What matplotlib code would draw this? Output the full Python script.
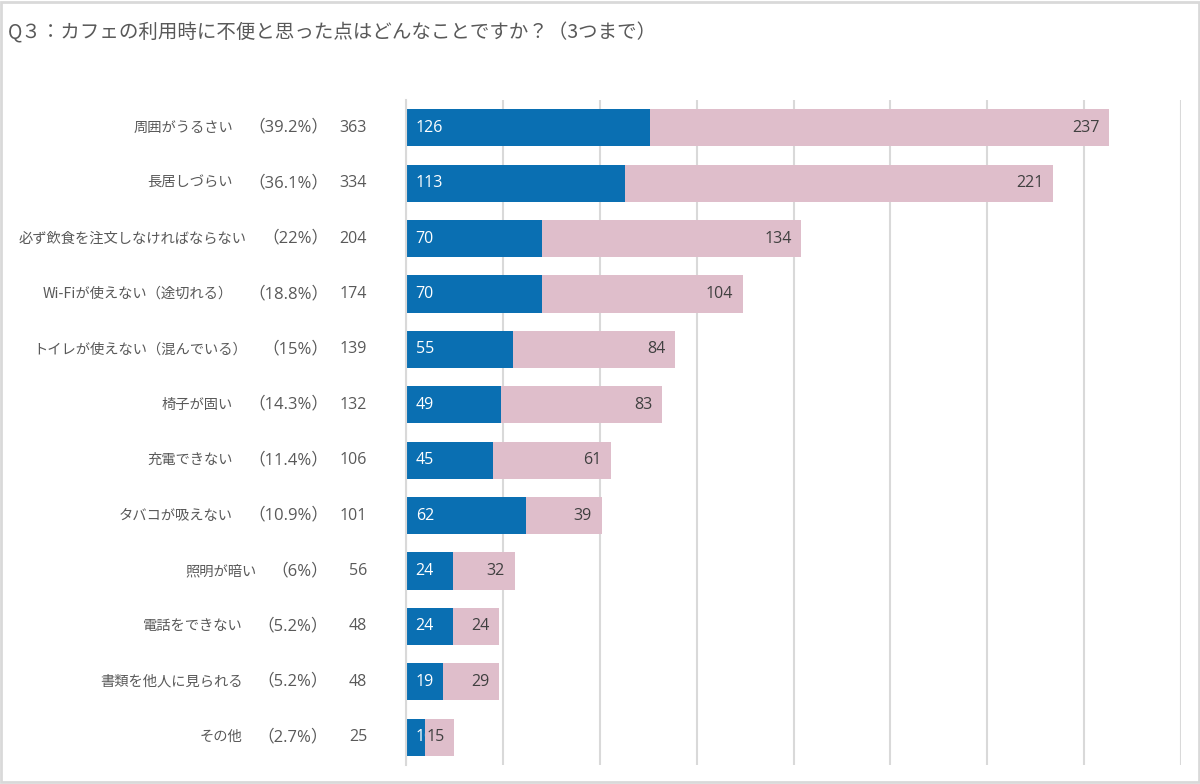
import matplotlib.pyplot as plt
from matplotlib.patches import Rectangle
import matplotlib.transforms as mtransforms

plt.rcParams['font.family'] = ['Noto Sans CJK JP', 'DejaVu Sans']
num_font = ['Open Sans', 'Noto Sans CJK JP']

cats = ['周囲がうるさい', '長居しづらい', '必ず飲食を注文しなければならない',
        'Wi-Fiが使えない（途切れる）', 'トイレが使えない（混んでいる）', '椅子が固い',
        '充電できない', 'タバコが吸えない', '照明が暗い', '電話をできない',
        '書類を他人に見られる', 'その他']
pcts = ['39.2%', '36.1%', '22%', '18.8%', '15%', '14.3%', '11.4%', '10.9%',
        '6%', '5.2%', '5.2%', '2.7%']
totals = [363, 334, 204, 174, 139, 132, 106, 101, 56, 48, 48, 25]
blue = [126, 113, 70, 70, 55, 49, 45, 62, 24, 24, 19, 10]
pink = [237, 221, 134, 104, 84, 83, 61, 39, 32, 24, 29, 15]

c_blue = '#0a6fb2'
c_pink = '#dfbecb'
c_text = '#595959'

fig = plt.figure(figsize=(12, 7.84), dpi=100)
ax = fig.add_axes([406/1200, 1-765/784, (1181-406)/1200, (765-100)/784])

y = list(range(len(cats)))
bb = ax.barh(y, blue, height=0.67, color=c_blue, zorder=2)
bp = ax.barh(y, pink, left=blue, height=0.67, color=c_pink, zorder=2)

for i in y:
    t = ax.annotate(str(blue[i]), (0, i), xytext=(7, 0), textcoords='offset points',
                    ha='left', va='center', color='white', fontsize=11.5,
                    family=num_font, zorder=4)
    t.set_clip_path(bb[i])  # like the reference, the "10" is cut at the bar end
    ax.annotate(str(pink[i]), (blue[i] + pink[i], i), xytext=(-7, 0),
                textcoords='offset points', ha='right', va='center',
                color='#404040', fontsize=11.5, family=num_font, zorder=5)

ax.set_xlim(0, 400)
ax.set_ylim(11.5, -0.5)
ax.set_xticks(range(0, 401, 50))
ax.xaxis.grid(True, color='#d9d9d9', lw=1.5, zorder=0)
ax.tick_params(length=0, labelbottom=False, labelleft=False)
for s in ['top', 'right', 'bottom']:
    ax.spines[s].set_visible(False)
ax.spines['left'].set_color('#d9d9d9')
ax.spines['left'].set_linewidth(1.5)

tr = mtransforms.blended_transform_factory(fig.transFigure, ax.transData)
r = fig.canvas.get_renderer()
for i in y:
    p = fig.text(328/1200, i, '（' + pcts[i] + '）', transform=tr,
                 ha='right', va='center', fontsize=12, family=num_font, color=c_text)
    x0 = p.get_window_extent(r).x0
    fig.text((x0 - 15)/1200, i, cats[i], transform=tr,
             ha='right', va='center', fontsize=10.3, color=c_text)
    fig.text(367/1200, i, str(totals[i]), transform=tr,
             ha='right', va='center', fontsize=11.5, family=num_font, color=c_text)

fig.text(8/1200, 1-33/784, 'Q３：カフェの利用時に不便と思った点はどんなことですか？（3つまで）',
         ha='left', va='center', fontsize=14, color=c_text)

fig.patches.append(Rectangle((0.001, 0.002), 0.998, 0.996, transform=fig.transFigure,
                             fill=False, edgecolor='#d9d9d9', lw=2))

fig.savefig('out.png', dpi=100)
